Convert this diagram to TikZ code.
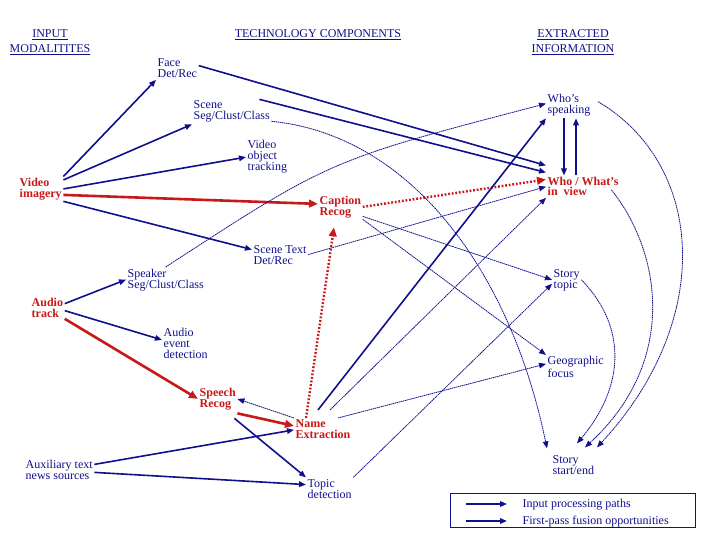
\documentclass[tikz,border=0pt]{standalone}
\usepackage{fontspec}
\setmainfont{Liberation Serif}
\usetikzlibrary{arrows.meta}
\definecolor{navyc}{RGB}{16,16,140}
\definecolor{redc}{RGB}{200,24,24}

\begin{document}
\begin{tikzpicture}[x=1pt, y=-1pt,
  every node/.style={font=\fontsize{12}{11}\selectfont, text=navyc, inner sep=1.5pt, align=left, anchor=base west},
  hot/.style={font=\fontsize{12}{10.5}\selectfont\bfseries, text=redc},
  heading/.style={anchor=base, align=center, font=\fontsize{12}{15}\selectfont},
  inpath/.style={draw=navyc, line width=1.6pt, -{Triangle[length=7pt,width=5.5pt]}},
  fusepath/.style={draw=navyc, line width=0.8pt, dash pattern=on 1.5pt off 0.6pt, -{Triangle[length=7pt,width=5.5pt]}},
  redpath/.style={draw=redc, line width=2.6pt, -{Triangle[length=9pt,width=7.5pt]}},
  reddots/.style={draw=redc, line width=2.4pt, dash pattern=on 1.8pt off 1.8pt, -{Triangle[length=9pt,width=7.5pt]}}]
	\useasboundingbox[fill=white] (0,0) rectangle (720,540);
	\node[heading] (inmod) at (50,53) {\underline{INPUT}\\\underline{MODALITITES}};
	\node[heading] (techc) at (318,38) {\underline{TECHNOLOGY COMPONENTS}};
	\node[heading] (extinf) at (573,53) {\underline{EXTRACTED}\\\underline{INFORMATION}};
	\node (face) at (156,78) {Face\\Det/Rec};
	\node (sseg) at (192,120) {Scene\\Seg/Clust/Class};
	\node (vot) at (246,171) {Video\\object\\tracking};
	\node[hot] (vimg) at (18,197) {Video\\imagery};
	\node[hot] (cap) at (318,215) {Caption\\Recog};
	\node (whos) at (546,114) {Who’s\\speaking};
	\node[hot] (whov) at (546,196) {Who / What’s\\in\ \ view};
	\node (stext) at (252,264) {Scene Text\\Det/Rec};
	\node (spk) at (126,288) {Speaker\\Seg/Clust/Class};
	\node (stopic) at (552,288) {Story\\topic};
	\node[hot] (atrack) at (30,317) {Audio\\track};
	\node (aevent) at (162,358) {Audio\\event\\detection};
	\node (geo) at (546,377) {Geographic\\focus};
	\node[hot] (speech) at (198,407) {Speech\\Recog};
	\node[hot] (name) at (294,438) {Name\\Extraction};
	\node (aux) at (24,479) {Auxiliary text\\news sources};
	\node (sse) at (551,474) {Story\\start/end};
	\node (topic) at (306,498) {Topic\\detection};
	\draw[inpath] (vimg.north east) -- (face.south west);
	\draw[inpath] ([yshift=9pt]vimg.east) -- (sseg.south west);
	\draw[inpath] (vimg.east) -- (vot.west);
	\draw[redpath] ([yshift=-6pt]vimg.east) -- ([yshift=3pt]cap.west);
	\draw[inpath] (vimg.south east) -- ([yshift=5pt]stext.west);
	\draw[inpath] ([yshift=4pt]atrack.east) -- (spk.west);
	\draw[inpath] ([yshift=-3pt]atrack.east) -- ([yshift=3pt]aevent.west);
	\draw[redpath] (atrack.south east) -- (speech.west);
	\draw[fusepath] (name.north west) -- (speech.east);
	\draw[redpath] ([yshift=-2pt]speech.south east) -- ([yshift=3pt]name.west);
	\draw[inpath] ([xshift=-3pt,yshift=-7pt]speech.south east) -- (topic.north west);
	\draw[inpath] ([yshift=5pt]aux.east) -- ([yshift=-1pt]name.west);
	\draw[inpath] ([yshift=-3pt]aux.east) -- ([yshift=4pt]topic.west);
	\draw[reddots] ([xshift=12pt]name.north west) -- ([xshift=16pt,yshift=-8pt]cap.south west);
	\draw[reddots] (cap.east) -- ([yshift=-4pt]whov.north west);
	\draw[inpath] ([yshift=3pt]face.east) -- ([yshift=10pt]whov.north west);
	\draw[inpath] ([xshift=-12pt]sseg.north east) -- ([yshift=3pt]whov.north west);
	\draw[fusepath] ([yshift=3pt]sseg.south east) .. controls (410,135) and (510,270) .. ([xshift=-4pt,yshift=5pt]sse.north west);
	\draw[fusepath] (spk.north) .. controls (330,160) .. ([yshift=2pt]whos.west);
	\draw[fusepath] (stext.east) -- (whov.west);
	\draw[inpath] ([xshift=24pt,yshift=8pt]name.north west) -- (whos.south west);
	\draw[fusepath] ([xshift=36pt,yshift=8pt]name.north west) -- (whov.south west);
	\draw[fusepath] ([xshift=-14pt]name.north east) -- ([yshift=3pt]geo.west);
	\draw[fusepath] ([yshift=3pt]cap.south east) -- (stopic.west);
	\draw[fusepath] (cap.south east) -- (geo.north west);
	\draw[fusepath] (topic.north east) -- ([yshift=-4pt]stopic.west);
	\draw[fusepath] (stopic.east) .. controls (630,330) and (622,390) .. ([xshift=26pt,yshift=10pt]sse.north west);
	\draw[fusepath] ([xshift=-9pt,yshift=8pt]whov.south east) .. controls (660,250) and (680,360) .. ([xshift=34pt,yshift=6pt]sse.north west);
	\draw[fusepath] ([xshift=6pt,yshift=4pt]whos.east) .. controls (705,165) and (715,320) .. ([xshift=46pt,yshift=6pt]sse.north west);
	\draw[inpath] ([xshift=18pt]whos.south west) -- ([xshift=18pt]whov.north west);
	\draw[inpath] ([xshift=30pt]whov.north west) -- ([xshift=30pt]whos.south west);
	\node[draw=navyc, line width=0.8pt, minimum width=245pt, minimum height=34pt, anchor=center] (legbox) at (572.5,510) {};
	\node (leg1) at (521,507) {Input processing paths};
	\node (leg2) at (521,524) {First-pass fusion opportunities};
	\draw[inpath] ([xshift=-55pt,yshift=3pt]leg1.base west) -- ([xshift=-14pt,yshift=3pt]leg1.base west);
	\draw[inpath] ([xshift=-55pt,yshift=3pt]leg2.base west) -- ([xshift=-14pt,yshift=3pt]leg2.base west);
\end{tikzpicture}
\end{document}
